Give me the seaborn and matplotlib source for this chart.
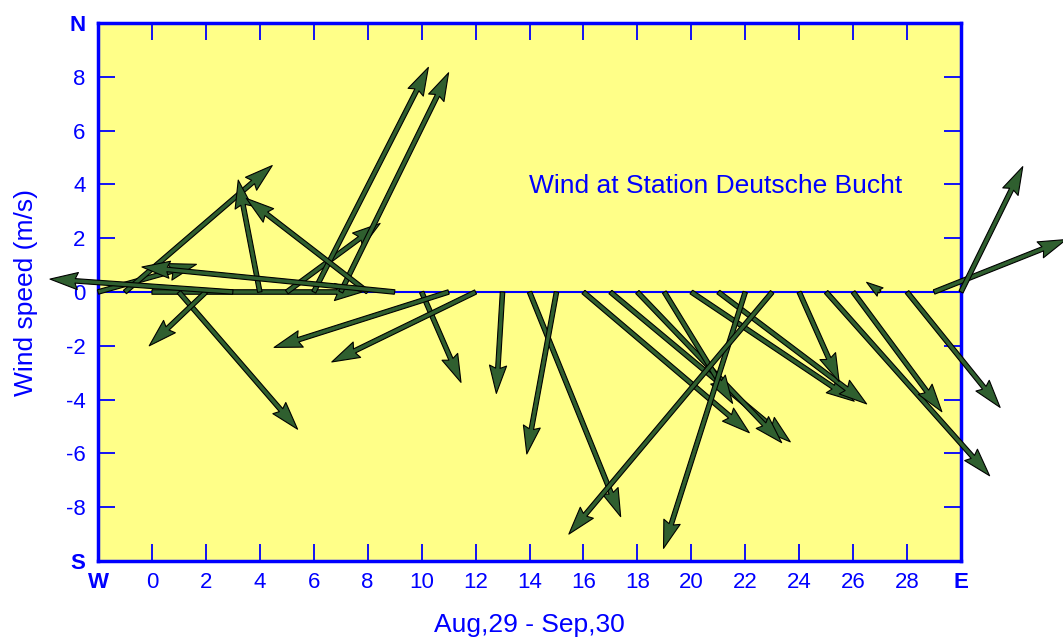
import numpy as np
import pandas as pd
import matplotlib
matplotlib.use("Agg")
import matplotlib.pyplot as plt
import seaborn as sns

# ---- data ----
days = list(range(-2, 31))
u_wind = [3.65, 5.46, 7.8, 4.4, -2.1, -6.78, -0.8, 3.46, 4.25, 4.0, -4.5, -9.37,
          1.46, -6.47, -5.33, -0.23, 3.38, -1.1, 6.15, 6.67, 5.35, 2.53, 6.04, 5.5,
          -3.03, -7.54, 1.48, 6.06, 3.29, -0.5, 3.45, 4.9, 2.29]
v_wind = [1.03, 4.70, 0.0, -5.1, -2.0, 0.48, 4.16, 2.55, 8.35, 8.15, 3.48, 0.93,
          -3.36, -2.06, -2.6, -3.77, -8.35, -6.02, -5.23, -5.57, -5.6, -4.14, -4.06, -4.16,
          -9.53, -9.0, -3.33, -6.83, -4.45, 0.36, -4.29, 1.95, 4.66]
x_ticks = list(range(-2, 31, 2))
x_ticklabels = ["W"] + [str(t) for t in range(0, 29, 2)] + ["E"]
y_ticks = list(range(-10, 11, 2))
y_ticklabels = ["S"] + [str(t) for t in range(-8, 9, 2)] + ["N"]
title_text = "Wind at Station Deutsche Bucht"
x_label = "Aug,29 - Sep,30"
y_label = "Wind speed (m/s)"

df = pd.DataFrame({"day": days, "u": u_wind, "v": v_wind, "base": 0.0})

sns.set_style("ticks")
plt.rcParams["font.family"] = ["Liberation Sans", "DejaVu Sans"]

BLUE = "#0000ff"
fig = plt.figure(figsize=(10.63, 6.37), dpi=100)
ax = fig.add_axes([98 / 1063, 1 - 561 / 637, (961 - 98) / 1063, (561 - 23) / 637])
ax.set_facecolor("#ffff88")

# zero baseline
sns.lineplot(data=df, x="day", y="base", ax=ax, color=BLUE, linewidth=1.5, zorder=2)

# wind arrows
ax.quiver(df["day"], df["base"], df["u"], df["v"], angles="xy", scale_units="xy", scale=1,
          units="dots", width=4.5, headwidth=3.8, headlength=6.2, headaxislength=5.6,
          minlength=0.5, facecolor="#2f5f2f", edgecolor="black", linewidth=0.8,
          clip_on=False, zorder=3)

ax.set_xlim(-2, 30)
ax.set_ylim(-10, 10)
ax.set_xticks(x_ticks)
ax.set_xticklabels(x_ticklabels)
ax.set_yticks(y_ticks)
ax.set_yticklabels(y_ticklabels)
for lab in (ax.get_xticklabels()[0], ax.get_xticklabels()[-1],
            ax.get_yticklabels()[0], ax.get_yticklabels()[-1]):
    lab.set_fontweight("bold")

ax.tick_params(axis="both", direction="in", length=12, width=1.3, color=BLUE,
               labelcolor=BLUE, labelsize=16, top=True, right=True)
ax.tick_params(axis="x", pad=8)
ax.tick_params(axis="y", pad=9)
for sp in ax.spines.values():
    sp.set_visible(True)
    sp.set_color(BLUE)
    sp.set_linewidth(2.5)

ax.set_xlabel(x_label, color=BLUE, fontsize=19, labelpad=14)
ax.set_ylabel(y_label, color=BLUE, fontsize=19, labelpad=20)

ax.text(20.9, 3.95, title_text, color=BLUE, fontsize=19, ha="center", va="center")

fig.savefig("out.png", dpi=100)
